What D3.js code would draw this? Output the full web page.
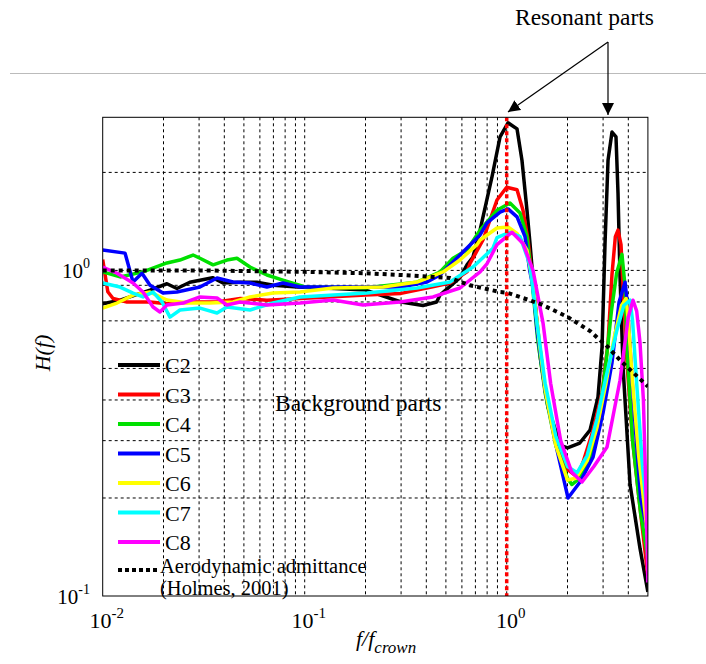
<!DOCTYPE html>
<html><head><meta charset="utf-8">
<script src="https://cdn.jsdelivr.net/npm/d3@7/dist/d3.min.js"></script>
<style>body{margin:0;background:#fff}svg{display:block}text{font-family:"Liberation Serif","Times New Roman",serif;fill:#000}</style>
</head><body><svg id="c" width="706" height="664"></svg>
<script>
const seriesNames = ["C2","C3","C4","C5","C6","C7","C8"];
const seriesColors = ["#000000","#ff0000","#00e000","#0000ff","#ffff00","#00ffff","#ff00ff"];
const xTicks = [0.01, 0.1, 1];
const xTickExp = ["-2","-1","0"];
const yTicks = [0.1, 1];
const yTickExp = ["-1","0"];

const C2 = [[0.01,0.79],[0.0122,0.81],[0.01715,0.87],[0.0208,0.91],[0.0233,0.88],[0.027,0.92],[0.035,0.95],[0.0394,0.915],[0.048,0.92],[0.058,0.92],[0.07,0.90],[0.092,0.89],[0.14,0.88],[0.2,0.87],[0.3,0.80],[0.385,0.78],[0.45,0.80],[0.4675,0.84],[0.587,0.95],[0.636,1.04],[0.681,1.1],[0.738,1.33],[0.846,1.94],[0.927,2.57],[1.015,2.84],[1.125,2.72],[1.19,2.18],[1.26,1.53],[1.304,1.21],[1.38,0.8],[1.46,0.55],[1.6,0.38],[1.85,0.29],[2.0,0.285],[2.3,0.295],[2.585,0.323],[2.83,0.408],[2.964,0.58],[3.067,1.21],[3.174,2.18],[3.321,2.66],[3.476,2.57],[3.556,1.73],[3.64,0.95],[3.77,0.5],[4.08,0.22],[4.57,0.14],[5.0,0.103]];
const C3 = [[0.01,1.08],[0.0106,0.86],[0.01125,0.82],[0.0132,0.80],[0.01715,0.80],[0.0208,0.79],[0.028,0.80],[0.0368,0.80],[0.048,0.82],[0.065,0.81],[0.095,0.82],[0.2,0.84],[0.3,0.85],[0.43,0.89],[0.524,0.915],[0.636,0.99],[0.658,1.05],[0.763,1.24],[0.895,1.645],[1.0,1.80],[1.125,1.77],[1.204,1.53],[1.275,1.24],[1.35,0.9],[1.45,0.6],[1.55,0.43],[1.75,0.3],[2.0,0.245],[2.23,0.232],[2.4,0.26],[2.675,0.323],[2.964,0.42],[3.174,0.6],[3.32,0.97],[3.45,1.27],[3.556,1.33],[3.68,1.2],[3.8,0.8],[3.94,0.52],[4.2,0.3],[4.6,0.18],[5.0,0.115]];
const C4 = [[0.01,0.99],[0.0122,0.955],[0.0158,0.99],[0.0208,1.054],[0.0241,1.076],[0.028,1.115],[0.0303,1.09],[0.0352,1.04],[0.0412,1.076],[0.0462,1.09],[0.0536,1.024],[0.065,0.968],[0.078,0.934],[0.095,0.90],[0.1,0.89],[0.2,0.885],[0.36,0.92],[0.4675,0.989],[0.5424,1.09],[0.6361,1.155],[0.738,1.33],[0.895,1.53],[1.038,1.61],[1.164,1.50],[1.26,1.27],[1.33,0.95],[1.42,0.62],[1.55,0.42],[1.75,0.29],[2.0,0.23],[2.1,0.22],[2.3,0.23],[2.6,0.27],[2.9,0.37],[3.1,0.52],[3.3,0.75],[3.5,0.98],[3.72,1.12],[3.85,0.9],[3.95,0.55],[4.2,0.3],[4.6,0.18],[5.0,0.13]];
const C5 = [[0.01,1.155],[0.0129,1.13],[0.01413,0.921],[0.01565,0.98],[0.01715,0.90],[0.01988,0.852],[0.0233,0.858],[0.0303,0.889],[0.0368,0.948],[0.0442,0.921],[0.0536,0.915],[0.065,0.889],[0.078,0.915],[0.095,0.889],[0.2,0.889],[0.3,0.889],[0.403,0.921],[0.4675,0.968],[0.587,1.115],[0.738,1.285],[0.799,1.40],[0.927,1.51],[1.015,1.545],[1.125,1.46],[1.232,1.27],[1.3,1.0],[1.35,0.889],[1.413,0.656],[1.548,0.429],[1.774,0.281],[2.012,0.20],[2.307,0.224],[2.675,0.267],[2.998,0.365],[3.32,0.52],[3.6,0.8],[3.853,0.92],[3.95,0.8],[4.1,0.55],[4.3,0.35],[4.6,0.2],[5.0,0.155]];
const C6 = [[0.01,0.766],[0.01177,0.794],[0.01413,0.84],[0.01715,0.858],[0.0208,0.811],[0.0262,0.794],[0.034,0.794],[0.0442,0.80],[0.0536,0.829],[0.0697,0.852],[0.095,0.858],[0.138,0.883],[0.244,0.889],[0.36,0.921],[0.484,0.989],[0.587,1.076],[0.713,1.20],[0.738,1.24],[0.895,1.35],[1.015,1.36],[1.125,1.30],[1.26,1.155],[1.35,0.9],[1.45,0.6],[1.55,0.43],[1.75,0.29],[2.0,0.227],[2.2,0.23],[2.5,0.26],[2.8,0.33],[3.1,0.45],[3.4,0.62],[3.7,0.78],[3.9,0.82],[4.0,0.7],[4.2,0.45],[4.5,0.27],[5.0,0.15]];
const C7 = [[0.01,0.915],[0.01218,0.889],[0.01413,0.852],[0.01583,0.829],[0.01775,0.858],[0.01966,0.80],[0.02154,0.719],[0.02414,0.756],[0.0303,0.766],[0.0368,0.74],[0.0412,0.772],[0.0536,0.756],[0.0697,0.794],[0.095,0.829],[0.2034,0.852],[0.36,0.883],[0.524,0.921],[0.681,1.024],[0.855,1.17],[0.895,1.26],[1.038,1.31],[1.164,1.27],[1.304,1.04],[1.413,0.689],[1.55,0.45],[1.75,0.31],[2.0,0.25],[2.228,0.239],[2.5,0.27],[2.8,0.35],[3.1,0.47],[3.5,0.65],[3.8,0.78],[4.08,0.81],[4.2,0.7],[4.4,0.45],[4.7,0.25],[5.0,0.17]];
const C8 = [[0.01,1.024],[0.01177,0.98],[0.01413,0.915],[0.01583,0.858],[0.01775,0.772],[0.0192,0.745],[0.0208,0.783],[0.025,0.794],[0.0303,0.829],[0.0368,0.823],[0.0412,0.783],[0.0478,0.80],[0.065,0.783],[0.095,0.794],[0.138,0.811],[0.1944,0.783],[0.2964,0.80],[0.4317,0.829],[0.587,0.883],[0.738,0.989],[0.8,1.05],[0.895,1.2],[1.062,1.31],[1.204,1.21],[1.35,1.0],[1.513,0.689],[1.65,0.45],[1.85,0.3],[2.1,0.24],[2.36,0.224],[2.7,0.25],[3.138,0.287],[3.639,0.46],[4.0,0.72],[4.22,0.81],[4.4,0.75],[4.57,0.60],[4.75,0.4],[4.9,0.2],[5.0,0.11]];
const admittance = [[0.01,1.0],[0.03,1.0],[0.1,0.99],[0.2,0.98],[0.3,0.968],[0.524,0.948],[0.658,0.90],[0.927,0.858],[1.0,0.855],[1.46,0.79],[2.0,0.72],[2.6,0.65],[2.9,0.61],[3.1,0.59],[3.64,0.53],[5.0,0.44]];
const seriesData = [C2,C3,C4,C5,C6,C7,C8];

const svg = d3.select("#c");
const L=102.7, R=647.9, T=117.3, B=596;
const x = d3.scaleLog().domain([0.01,5]).range([L,R]);
const y = d3.scaleLog().domain([0.1,2.953]).range([B,T]);

// separator line
svg.append("line").attr("x1",10).attr("x2",706).attr("y1",73.5).attr("y2",73.5).attr("stroke","#bbb").attr("stroke-width",1);

// grid
const xGrid = [];
[0.01,0.1,1].forEach(d=>{for(let k=1;k<10;k++){const v=d*k; if(v>0.01 && v<5) xGrid.push(v);}});
const yGrid = [0.2,0.3,0.4,0.5,0.6,0.7,0.8,0.9,1,2];
const g = svg.append("g");
g.selectAll(".vg").data(xGrid).join("line").attr("x1",d=>x(d)).attr("x2",d=>x(d)).attr("y1",T).attr("y2",B)
 .attr("stroke","#000").attr("stroke-width",1).attr("stroke-dasharray","3,3");
g.selectAll(".hg").data(yGrid).join("line").attr("x1",L).attr("x2",R).attr("y1",d=>y(d)).attr("y2",d=>y(d))
 .attr("stroke","#000").attr("stroke-width",1).attr("stroke-dasharray","3,3");

// curves
const line = d3.line().x(d=>x(d[0])).y(d=>y(Math.max(d[1],0.1)));
svg.append("clipPath").attr("id","clp").append("rect").attr("x",L).attr("y",T).attr("width",R-L).attr("height",B-T);
const cg = svg.append("g").attr("clip-path","url(#clp)");
seriesData.forEach((s,i)=>{
  cg.append("path").attr("d",line(s)).attr("fill","none").attr("stroke",seriesColors[i]).attr("stroke-width",3.5).attr("stroke-linejoin","round");
});
cg.append("path").attr("d",line(admittance)).attr("fill","none").attr("stroke","#000").attr("stroke-width",4).attr("stroke-dasharray","4,4");
cg.append("line").attr("x1",x(1)).attr("x2",x(1)).attr("y1",T).attr("y2",B).attr("stroke","#ff0000").attr("stroke-width",3.5).attr("stroke-dasharray","4,3");

// frame
svg.append("rect").attr("x",L).attr("y",T).attr("width",R-L).attr("height",B-T).attr("fill","none").attr("stroke","#000").attr("stroke-width",1);

// axes tick labels
xTicks.forEach((t,i)=>{
  const tx = svg.append("text").attr("x",x(t)+4).attr("y",628).attr("text-anchor","middle").attr("font-size",22);
  tx.append("tspan").text("10");
  tx.append("tspan").attr("dy",-10).attr("font-size",15).text(xTickExp[i]);
});
yTicks.forEach((t,i)=>{
  const ty = svg.append("text").attr("x",90).attr("y",y(t)+8).attr("text-anchor","end").attr("font-size",21);
  ty.append("tspan").text("10");
  ty.append("tspan").attr("dy",-10).attr("font-size",14).text(yTickExp[i]);
});

// axis titles
const xl = svg.append("text").attr("x",356).attr("y",646).attr("font-size",22).attr("font-style","italic");
xl.append("tspan").text("f/f");
xl.append("tspan").attr("dy",7).attr("font-size",17).text("crown");
svg.append("text").attr("transform","translate(50,353) rotate(-90)").attr("text-anchor","middle").attr("font-size",22).attr("font-style","italic").text("H(f)");

// legend
const legY0 = 365, legDy = 29.5;
seriesNames.forEach((n,i)=>{
  const yy = legY0 + i*legDy;
  svg.append("line").attr("x1",118).attr("x2",160).attr("y1",yy).attr("y2",yy).attr("stroke",seriesColors[i]).attr("stroke-width",4);
  svg.append("text").attr("x",165).attr("y",yy+8).attr("font-size",22).text(n);
});
svg.append("line").attr("x1",118).attr("x2",160).attr("y1",570).attr("y2",570).attr("stroke","#000").attr("stroke-width",4).attr("stroke-dasharray","4,3");
svg.append("text").attr("x",160).attr("y",573).attr("font-size",20.5).text("Aerodynamic admittance");
svg.append("text").attr("x",160).attr("y",595).attr("font-size",20.5).text("(Holmes, 2001)");

// annotations
svg.append("text").attr("x",275).attr("y",411).attr("font-size",23.5).text("Background parts");
svg.append("text").attr("x",515).attr("y",25).attr("font-size",23.5).text("Resonant parts");
const defs = svg.append("defs");
defs.append("marker").attr("id","ah").attr("viewBox","0 0 10 10").attr("refX",10).attr("refY",5)
  .attr("markerWidth",12).attr("markerHeight",12).attr("markerUnits","userSpaceOnUse").attr("orient","auto")
  .append("path").attr("d","M0,0 L10,5 L0,10 z").attr("fill","#000");
svg.append("line").attr("x1",608).attr("y1",42).attr("x2",508).attr("y2",112).attr("stroke","#000").attr("stroke-width",1.2).attr("marker-end","url(#ah)");
svg.append("line").attr("x1",608).attr("y1",42).attr("x2",608).attr("y2",115).attr("stroke","#000").attr("stroke-width",1.2).attr("marker-end","url(#ah)");
</script></body></html>
